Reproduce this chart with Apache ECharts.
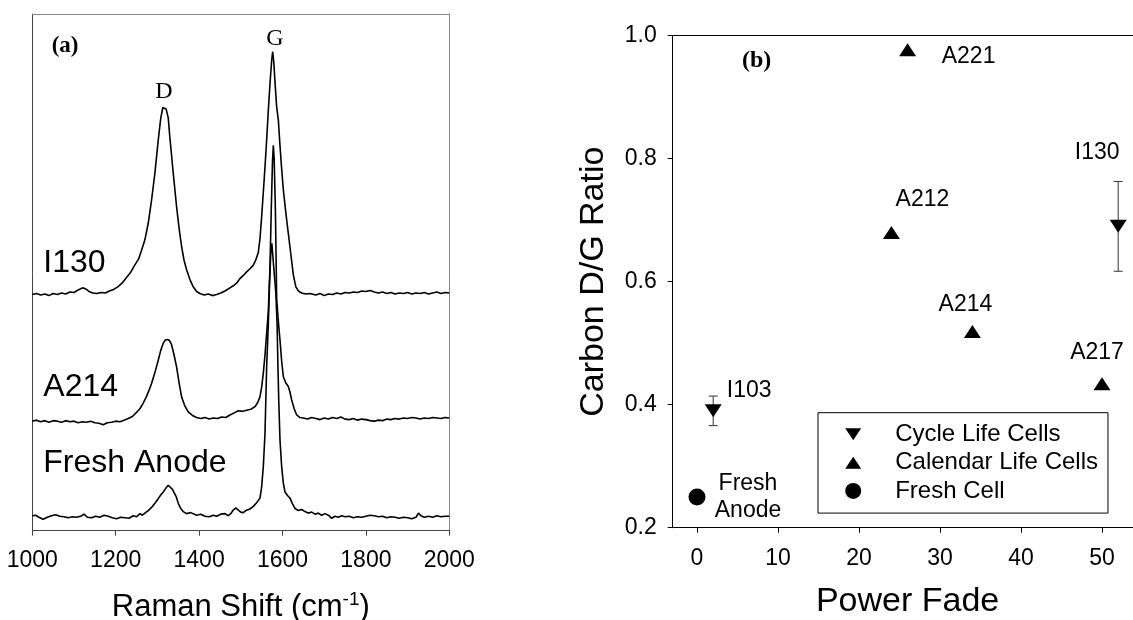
<!DOCTYPE html>
<html>
<head>
<meta charset="utf-8">
<script src="https://cdn.jsdelivr.net/npm/echarts@6/dist/echarts.min.js"></script>
<style>
html,body{margin:0;padding:0;background:#fff;}
#chart{width:1133px;height:620px;}
</style>
</head>
<body>
<div id="chart"></div>
<script>
// ---------- Panel (a): Raman spectra [wavenumber, intensity (offset, a.u.)] ----------
const ramanI130 = [[1000,45.7],[1010,45.9],[1020,45.6],[1030,45.8],[1040,45.5],[1050,45.9],[1060,45.7],[1070,46.0],[1080,45.8],[1090,46.2],[1100,46.1],[1110,46.6],[1120,47.0],[1128,46.8],[1136,46.3],[1145,46.0],[1155,45.9],[1165,46.1],[1175,46.0],[1185,46.4],[1195,46.7],[1205,47.2],[1215,47.9],[1225,48.9],[1235,49.9],[1245,51.3],[1255,52.6],[1262,54.3],[1270,56.3],[1278,59.5],[1286,64.0],[1294,69.2],[1302,75.6],[1308,79.8],[1313,81.9],[1317,82.1],[1321,81.6],[1326,79.9],[1330,76.0],[1338,69.2],[1346,62.7],[1352,58.5],[1358,55.0],[1364,52.3],[1370,50.5],[1378,48.6],[1386,47.2],[1394,46.3],[1402,45.9],[1412,45.6],[1422,45.8],[1432,45.5],[1442,45.7],[1452,46.0],[1462,46.4],[1472,46.9],[1482,47.4],[1490,47.9],[1498,48.8],[1506,49.4],[1514,50.1],[1522,50.7],[1530,51.4],[1536,52.4],[1542,53.9],[1546,56.5],[1550,60.8],[1554,65.5],[1558,70.4],[1562,75.6],[1566,81.4],[1570,86.5],[1574,91.0],[1576.5,92.7],[1579,90.8],[1583,85.6],[1586,82.0],[1590,79.5],[1594,74.5],[1598,70.0],[1602,66.0],[1608,61.5],[1614,57.5],[1620,53.5],[1626,49.5],[1632,47.2],[1638,46.4],[1646,46.0],[1656,45.8],[1666,45.9],[1680,45.6],[1690,45.9],[1700,45.5],[1710,45.8],[1720,45.7],[1730,46.0],[1740,45.8],[1750,46.1],[1760,46.0],[1770,46.2],[1780,46.1],[1790,46.4],[1800,46.3],[1810,46.5],[1820,46.2],[1830,46.0],[1840,46.2],[1850,45.9],[1860,46.1],[1870,45.8],[1880,46.0],[1890,45.9],[1900,46.1],[1910,45.8],[1920,46.0],[1930,45.9],[1940,46.1],[1950,45.8],[1960,46.0],[1970,46.2],[1980,45.9],[1990,46.1],[2000,46.0]];
const ramanA214 = [[1000,21.2],[1010,21.4],[1020,21.1],[1030,21.3],[1040,21.0],[1050,21.3],[1060,21.2],[1070,21.0],[1080,21.3],[1090,21.1],[1100,21.2],[1110,20.9],[1120,21.1],[1130,21.0],[1140,21.2],[1150,20.9],[1160,20.8],[1170,20.5],[1180,20.9],[1190,21.0],[1200,21.2],[1210,21.1],[1220,21.4],[1230,21.7],[1240,22.1],[1250,22.9],[1258,23.6],[1266,24.7],[1274,26.0],[1280,27.2],[1286,28.5],[1294,30.6],[1302,33.0],[1308,34.9],[1314,36.3],[1319,36.9],[1324,37.0],[1329,36.8],[1334,36.0],[1340,34.0],[1346,31.7],[1352,28.6],[1358,25.9],[1366,24.1],[1374,23.0],[1384,22.3],[1394,21.9],[1404,21.7],[1414,21.9],[1424,21.6],[1434,21.8],[1444,21.7],[1454,22.0],[1464,21.9],[1474,22.4],[1484,22.8],[1494,23.2],[1504,23.1],[1514,23.3],[1524,23.5],[1534,24.0],[1540,24.7],[1546,25.9],[1550,27.8],[1554,30.5],[1558,34.0],[1562,38.2],[1566,42.5],[1570,51.0],[1573,62.0],[1576,71.5],[1578,74.6],[1580,72.0],[1583,62.0],[1586,45.0],[1590,40.5],[1594,36.9],[1598,32.8],[1602,29.8],[1608,28.6],[1614,27.9],[1618,26.8],[1622,25.3],[1628,23.6],[1634,22.4],[1642,21.9],[1650,21.8],[1660,21.6],[1670,21.9],[1680,21.7],[1690,21.5],[1700,21.8],[1710,21.6],[1720,21.9],[1730,21.7],[1740,22.0],[1750,21.6],[1760,21.5],[1770,21.7],[1780,21.4],[1790,21.6],[1800,21.5],[1810,21.3],[1820,21.2],[1830,21.4],[1840,21.3],[1850,21.6],[1860,21.5],[1870,21.7],[1880,21.6],[1890,21.8],[1900,21.7],[1910,21.9],[1920,21.8],[1930,21.6],[1940,21.8],[1950,21.7],[1960,21.9],[1970,21.8],[1980,21.7],[1990,21.9],[2000,21.8]];
const ramanFresh = [[1000,2.9],[1008,3.0],[1016,2.6],[1026,2.2],[1036,2.6],[1046,2.9],[1056,3.1],[1066,2.8],[1076,2.7],[1086,2.5],[1096,2.7],[1106,2.6],[1116,2.8],[1124,3.2],[1132,2.6],[1142,2.5],[1152,2.8],[1162,2.6],[1172,3.0],[1182,2.8],[1192,2.5],[1202,2.3],[1212,2.6],[1222,2.5],[1232,2.4],[1242,2.9],[1250,2.7],[1258,3.3],[1264,3.0],[1270,3.4],[1278,3.9],[1286,4.5],[1294,5.3],[1302,6.2],[1308,6.9],[1314,7.5],[1320,8.2],[1326,8.8],[1330,8.6],[1336,8.0],[1340,7.7],[1345,6.6],[1350,5.3],[1356,4.3],[1362,3.7],[1370,3.3],[1380,3.5],[1394,3.0],[1404,3.2],[1414,2.8],[1424,2.7],[1434,3.0],[1442,2.8],[1452,3.2],[1462,3.3],[1470,2.9],[1476,3.3],[1482,4.0],[1488,4.4],[1494,4.0],[1500,3.6],[1506,3.5],[1512,3.9],[1522,4.2],[1530,4.7],[1538,5.4],[1546,6.3],[1550,8.5],[1554,12.4],[1558,18.8],[1562,31.7],[1566,40.0],[1569,48.0],[1572,54.0],[1574.5,55.6],[1577,53.0],[1580,50.0],[1584,46.0],[1587,40.0],[1589,32.0],[1591,25.3],[1594,17.5],[1598,12.4],[1602,9.2],[1606,7.5],[1612,6.8],[1618,6.3],[1624,5.2],[1630,4.3],[1638,3.9],[1646,4.1],[1654,3.7],[1662,3.4],[1670,3.6],[1678,3.2],[1686,3.4],[1694,3.0],[1702,3.3],[1710,3.0],[1718,2.4],[1726,2.8],[1734,2.6],[1742,2.9],[1750,2.7],[1760,2.8],[1770,2.5],[1780,2.7],[1790,2.6],[1800,2.8],[1810,3.0],[1820,2.9],[1830,2.7],[1840,2.8],[1850,2.5],[1860,2.7],[1870,2.6],[1880,2.4],[1890,2.6],[1900,2.5],[1910,2.3],[1920,2.6],[1926,3.4],[1932,2.9],[1940,2.6],[1950,2.8],[1960,2.6],[1970,2.9],[1980,2.7],[1990,2.8],[2000,2.8]];
const ramanTicks = [1000, 1200, 1400, 1600, 1800, 2000];

// ---------- Panel (b): D/G ratio vs power fade ----------
const cycleNames = ['I103', 'I130'];
const cycleFade = [2, 52];
const cycleRatio = [0.39, 0.69];
const cycleErr = [0.024, 0.073];

const calendarNames = ['A212', 'A221', 'A214', 'A217'];
const calendarFade = [24, 26, 34, 50];
const calendarRatio = [0.68, 0.977, 0.519, 0.434];

const freshNames = ['Fresh\nAnode'];
const freshFade = [0];
const freshRatio = [0.25];

const fadeTicks = [0, 10, 20, 30, 40, 50];
const ratioTicks = [0.2, 0.4, 0.6, 0.8, 1.0];

// ---------- styling ----------
const SANS = '"Liberation Sans", Arial, sans-serif';
const SERIF = '"Liberation Serif", "Times New Roman", serif';
const labelOffsets = {
  'I103': [36, -20], 'I130': [-21, -74],
  'A212': [31, -33], 'A221': [61, 7], 'A214': [-7, -27], 'A217': [-5, -31],
  'Fresh\nAnode': [51, 0]
};
const DOWN_TRI = 'path://M0,0L16,0L8,12Z';
const LEG_DOWN = 'path://M0,0M16,16M0,2L16,2L8,14Z';
const LEG_UP = 'path://M0,0M16,16M0,14L8,2L16,14Z';

function pts(names, xs, ys) {
  return names.map((n, i) => ({
    name: n, value: [xs[i], ys[i]],
    label: { offset: labelOffsets[n] }
  }));
}

const chart = echarts.init(document.getElementById('chart'), null, { renderer: 'canvas' });

const ptLabel = {
  show: true, position: 'inside', formatter: p => p.name,
  color: '#000', fontFamily: SANS, fontSize: 23, lineHeight: 27, align: 'center',
  textBorderWidth: 0, textBorderColor: 'transparent', textShadowBlur: 0
};
const markerStyle = { color: '#000', opacity: 1 };

const option = {
  animation: false,
  backgroundColor: '#fff',
  grid: [
    { left: 32.3, top: 14, width: 417, height: 516.7, containLabel: false, outerBoundsMode: 'none' },
    { left: 672.7, top: 35.7, width: 469.8, height: 492, containLabel: false, outerBoundsMode: 'none' }
  ],
  xAxis: [
    { type: 'value', gridIndex: 0, position: 'bottom', min: 1000, max: 2000, interval: 200,
      axisLine: { onZero: false, lineStyle: { color: '#444', width: 1 } },
      axisTick: { show: true, inside: false, length: 5, customValues: ramanTicks, lineStyle: { color: '#444' } },
      axisLabel: { color: '#000', fontFamily: SANS, fontSize: 23, margin: 18, customValues: ramanTicks,
        formatter: v => String(v) },
      splitLine: { show: false },
      name: 'Raman Shift (cm{sup|-1})', nameLocation: 'middle', nameGap: 60,
      nameTextStyle: { color: '#000', fontFamily: SANS, fontSize: 31,
        rich: { sup: { fontSize: 19, fontFamily: SANS, color: '#000', verticalAlign: 'top', padding: [0, 0, 14, 0] } } }
    },
    { type: 'value', gridIndex: 0, position: 'top', min: 1000, max: 2000,
      axisLine: { onZero: false, lineStyle: { color: '#888', width: 1 } },
      axisTick: { show: false }, axisLabel: { show: false }, splitLine: { show: false } },
    { type: 'value', gridIndex: 1, position: 'bottom', min: -3, max: 55,
      axisLine: { onZero: false, lineStyle: { color: '#000', width: 1 } },
      axisTick: { show: true, inside: false, length: 5, customValues: fadeTicks, lineStyle: { color: '#000' } },
      axisLabel: { color: '#000', fontFamily: SANS, fontSize: 23, margin: 19, customValues: fadeTicks,
        formatter: v => String(v) },
      splitLine: { show: false },
      name: 'Power Fade', nameLocation: 'middle', nameGap: 57,
      nameTextStyle: { color: '#000', fontFamily: SANS, fontSize: 34 }
    },
    { type: 'value', gridIndex: 1, position: 'top', min: -3, max: 55,
      axisLine: { onZero: false, lineStyle: { color: '#000', width: 1 } },
      axisTick: { show: false }, axisLabel: { show: false }, splitLine: { show: false } }
  ],
  yAxis: [
    { type: 'value', gridIndex: 0, position: 'left', min: 0, max: 100,
      axisLine: { show: true, onZero: false, lineStyle: { color: '#444', width: 1 } },
      axisTick: { show: false }, axisLabel: { show: false }, splitLine: { show: false } },
    { type: 'value', gridIndex: 0, position: 'right', min: 0, max: 100,
      axisLine: { show: true, onZero: false, lineStyle: { color: '#888', width: 1 } },
      axisTick: { show: false }, axisLabel: { show: false }, splitLine: { show: false } },
    { type: 'value', gridIndex: 1, position: 'left', min: 0.2, max: 1.0, interval: 0.2,
      axisLine: { show: true, onZero: false, lineStyle: { color: '#000', width: 1 } },
      axisTick: { show: true, inside: false, length: 5, customValues: ratioTicks, lineStyle: { color: '#000' } },
      axisLabel: { color: '#000', fontFamily: SANS, fontSize: 23, margin: 16, customValues: ratioTicks,
        formatter: v => Number(v).toFixed(1) },
      splitLine: { show: false },
      name: 'Carbon D/G Ratio', nameLocation: 'middle', nameGap: 62,
      nameTextStyle: { color: '#000', fontFamily: SANS, fontSize: 34 }
    }
  ],
  legend: {
    show: true, orient: 'vertical', left: 818, top: 412.7,
    borderColor: '#000', borderWidth: 1, borderRadius: 0,
    padding: [7.5, 10, 8, 27.2], itemGap: 0,
    itemWidth: 30, itemHeight: 16, selectedMode: false,
    formatter: n => '{g|}' + n,
    itemStyle: { opacity: 1 },
    textStyle: { color: '#000', fontFamily: SANS, fontSize: 24, lineHeight: 28.3,
      rich: { g: { width: 22 } } },
    data: [
      { name: 'Cycle Life Cells', icon: LEG_DOWN },
      { name: 'Calendar Life Cells', icon: LEG_UP },
      { name: 'Fresh Cell', icon: 'circle' }
    ]
  },
  graphic: [
    { type: 'text', x: 51.7, y: 45.7, silent: true,
      style: { text: '(a)', fill: '#000', font: 'bold 23px ' + SERIF, align: 'left', verticalAlign: 'middle' } },
    { type: 'text', x: 164, y: 91.7, silent: true,
      style: { text: 'D', fill: '#000', font: '24px ' + SERIF, align: 'center', verticalAlign: 'middle' } },
    { type: 'text', x: 275, y: 38.3, silent: true,
      style: { text: 'G', fill: '#000', font: '24px ' + SERIF, align: 'center', verticalAlign: 'middle' } },
    { type: 'text', x: 43.3, y: 263, silent: true,
      style: { text: 'I130', fill: '#000', font: '32px ' + SANS, align: 'left', verticalAlign: 'middle' } },
    { type: 'text', x: 43.3, y: 386.7, silent: true,
      style: { text: 'A214', fill: '#000', font: '32px ' + SANS, align: 'left', verticalAlign: 'middle' } },
    { type: 'text', x: 43.3, y: 463.3, silent: true,
      style: { text: 'Fresh Anode', fill: '#000', font: '32px ' + SANS, align: 'left', verticalAlign: 'middle' } },
    { type: 'text', x: 741.9, y: 61, silent: true,
      style: { text: '(b)', fill: '#000', font: 'bold 24px ' + SERIF, align: 'left', verticalAlign: 'middle' } }
  ],
  series: [
    { name: 'I130 spectrum', type: 'line', xAxisIndex: 0, yAxisIndex: 0, data: ramanI130,
      showSymbol: false, symbol: 'none', smooth: false, lineStyle: { color: '#000', width: 1.6 }, silent: true },
    { name: 'A214 spectrum', type: 'line', xAxisIndex: 0, yAxisIndex: 0, data: ramanA214,
      showSymbol: false, symbol: 'none', lineStyle: { color: '#000', width: 1.6 }, silent: true },
    { name: 'Fresh spectrum', type: 'line', xAxisIndex: 0, yAxisIndex: 0, data: ramanFresh,
      showSymbol: false, symbol: 'none', lineStyle: { color: '#000', width: 1.6 }, silent: true },
    { name: 'errors', type: 'custom', xAxisIndex: 2, yAxisIndex: 2, silent: true, z: 1,
      data: cycleFade.map((x, i) => [x, cycleRatio[i], cycleErr[i]]),
      renderItem: (params, api) => {
        const x = api.value(0), y = api.value(1), e = api.value(2);
        const t = api.coord([x, y + e]), b = api.coord([x, y - e]);
        const hw = 4.5, st = { stroke: '#333', lineWidth: 1 };
        return { type: 'group', children: [
          { type: 'line', shape: { x1: t[0], y1: t[1], x2: b[0], y2: b[1] }, style: st },
          { type: 'line', shape: { x1: t[0] - hw, y1: t[1], x2: t[0] + hw, y2: t[1] }, style: st },
          { type: 'line', shape: { x1: b[0] - hw, y1: b[1], x2: b[0] + hw, y2: b[1] }, style: st }
        ] };
      }
    },
    { name: 'Cycle Life Cells', type: 'scatter', xAxisIndex: 2, yAxisIndex: 2, z: 3,
      symbol: DOWN_TRI, symbolSize: [17, 13], itemStyle: markerStyle,
      label: ptLabel, emphasis: { disabled: true }, data: pts(cycleNames, cycleFade, cycleRatio) },
    { name: 'Calendar Life Cells', type: 'scatter', xAxisIndex: 2, yAxisIndex: 2, z: 3,
      symbol: 'triangle', symbolSize: [17, 13], itemStyle: markerStyle,
      label: ptLabel, emphasis: { disabled: true }, data: pts(calendarNames, calendarFade, calendarRatio) },
    { name: 'Fresh Cell', type: 'scatter', xAxisIndex: 2, yAxisIndex: 2, z: 3,
      symbol: 'circle', symbolSize: 17, itemStyle: markerStyle,
      label: ptLabel, emphasis: { disabled: true }, data: pts(freshNames, freshFade, freshRatio) }
  ]
};
chart.setOption(option);
</script>
</body>
</html>
